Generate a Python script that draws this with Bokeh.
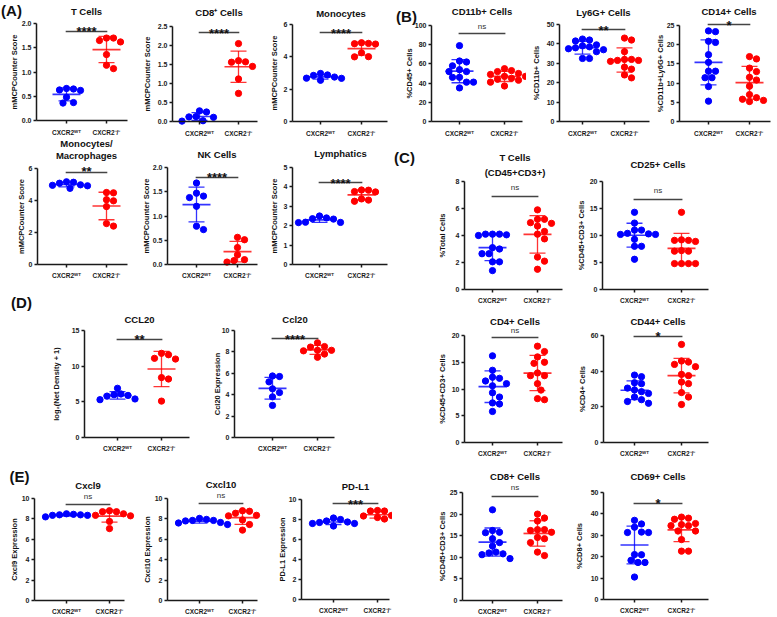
import math
import numpy as np
from bokeh.plotting import figure
from bokeh.layouts import row, column
from bokeh.models import Range1d, FixedTicker, Label, PrintfTickFormatter
from bokeh.embed import file_html
from bokeh.resources import INLINE

# ---------------- data ----------------
GROUP_LABELS = ["CXCR2ᵂᵀ", "CXCR2⁻/⁻"]

# (A) mMCPCounter scores
a_tcells_wt = [0.66, 0.65, 0.62, 0.63, 0.48, 0.36, 0.37]
a_tcells_ko = [1.70, 1.70, 1.65, 1.62, 1.36, 1.14, 1.07]
a_cd8_wt = [0.28, 0.25, 0.13, 0.12, 0.11, 0.02, 0.01]
a_cd8_ko = [2.05, 1.60, 1.57, 1.56, 1.45, 1.12, 0.74]
a_mono_wt = [2.67, 2.68, 2.75, 2.88, 2.97, 2.85, 2.55]
a_mono_ko = [4.83, 4.79, 4.81, 4.87, 4.25, 4.00, 4.01]
a_monomac_wt = [5.17, 5.08, 4.98, 4.95, 5.14, 4.76, 4.92]
a_monomac_ko = [4.50, 4.48, 4.05, 3.98, 3.62, 2.56, 2.40]
a_nk_wt = [1.68, 1.47, 1.41, 1.38, 1.20, 0.79, 0.72]
a_nk_ko = [0.56, 0.51, 0.35, 0.20, 0.08, 0.05, 0.10]
a_lymph_wt = [2.50, 2.36, 2.34, 2.40, 2.17, 2.16, 2.18]
a_lymph_ko = [3.76, 3.84, 3.74, 3.83, 3.26, 3.32, 3.38]

# (B) flow cytometry, myeloid
b_cd11b_wt = [79, 62, 63, 58, 52, 52, 54, 46, 46, 41, 41, 35]
b_cd11b_ko = [55, 53, 52, 50, 49, 47, 47, 45, 44, 43, 41, 37]
b_ly6g_wt = [42.5, 42, 41.5, 39.5, 39, 38.5, 38, 37.5, 37, 36, 32.5, 32.5]
b_ly6g_ko = [43, 42, 36, 32, 32, 31.5, 31.5, 31, 28, 27, 24, 22.5]
b_cd14_wt = [23.4, 23.6, 20.9, 20.6, 17.4, 15.4, 13.1, 13.1, 11.4, 11.4, 9.1, 5.3]
b_cd14_ko = [16.9, 16.3, 13.9, 13.0, 11.5, 10.8, 9.2, 7.0, 6.2, 5.8, 5.5, 5.2]

# (C) flow cytometry, T cells
c_tcells_wt = [4.1, 4.1, 4.05, 4.0, 4.1, 3.1, 3.0, 2.65, 2.65, 2.05, 2.05, 1.4]
c_tcells_ko = [5.9, 5.2, 5.2, 4.95, 4.9, 4.7, 4.3, 4.1, 3.75, 2.4, 2.1, 1.5]
c_cd25_wt = [14.3, 12.3, 11.0, 11.0, 10.3, 10.2, 10.2, 10.4, 9.3, 8.0, 8.0, 5.6]
c_cd25_ko = [14.3, 9.2, 9.1, 9.1, 8.9, 7.2, 7.1, 7.1, 4.8, 4.8, 4.8, 4.8]
c_cd4_wt = [16.2, 13.5, 12.2, 12.0, 11.5, 11.0, 10.6, 9.3, 8.5, 7.4, 7.2, 5.8]
c_cd4_ko = [18.0, 17.0, 16.0, 15.0, 14.8, 13.0, 12.5, 12.5, 11.0, 9.8, 8.2, 8.0]
c_cd44_wt = [37.8, 36.9, 33.5, 33.0, 30.5, 29.5, 28.5, 27.5, 25.5, 24.0, 23.0, 22.0]
c_cd44_ko = [55.0, 45.7, 45.1, 43.8, 42.5, 38.2, 37.5, 33.9, 33.0, 28.0, 25.5, 21.3]
c_cd8_wt = [21.0, 16.2, 15.8, 15.7, 14.3, 13.4, 12.6, 11.2, 11.0, 10.8, 10.6, 9.7]
c_cd8_ko = [20.0, 19.1, 18.4, 16.4, 16.4, 16.2, 15.8, 14.6, 14.3, 13.4, 11.2, 10.4]
c_cd69_wt = [37.0, 35.3, 33.8, 31.3, 31.5, 31.3, 21.0, 20.9, 18.3, 17.3, 17.3, 10.5]
c_cd69_ko = [38.5, 38.0, 37.5, 35.0, 35.5, 34.5, 34.5, 32.0, 32.0, 28.0, 22.6, 22.6]

# (D) CCL20 protein / Ccl20 RNA
d_ccl20_prot_wt = [6.9, 6.1, 6.0, 5.9, 5.8, 5.4, 5.3]
d_ccl20_prot_ko = [11.8, 11.6, 11.1, 11.0, 8.4, 8.2, 5.1]
d_ccl20_rna_wt = [5.75, 5.7, 5.2, 4.55, 4.2, 3.8, 3.0]
d_ccl20_rna_ko = [8.85, 8.5, 8.45, 8.15, 8.15, 8.1, 7.8, 7.5]

# (E) expression
e_cxcl9_wt = [8.35, 8.5, 8.45, 8.4, 8.35, 8.4, 8.2]
e_cxcl9_ko = [8.8, 8.7, 8.7, 8.5, 8.35, 8.3, 7.75, 7.05]
e_cxcl10_wt = [7.95, 8.05, 7.85, 7.8, 7.65, 7.6, 7.85, 7.45]
e_cxcl10_ko = [8.75, 8.8, 8.55, 8.35, 8.3, 7.9, 7.45, 6.9]
e_pdl1_wt = [7.85, 7.75, 8.0, 8.15, 7.35, 7.6, 7.6, 7.7]
e_pdl1_ko = [8.85, 8.9, 8.85, 8.2, 8.35, 8.4, 8.05, 8.2]

# ---------------- styling / layout ----------------
FONT = "Liberation Sans"
BLUE = "#0000FF"
RED = "#FF0000"
AXIS = "#1a1a1a"


def X(x):
    return x - 1.0


def Y(y):
    return y - 1.0


def swarm(vals, ppu, d):
    vals = np.asarray(vals, float)
    order = np.argsort(-vals, kind="stable")
    placed = []
    offs = np.zeros(len(vals))
    cands = [0.0]
    for k in range(1, 40):
        cands += [k * d / 2.0, -k * d / 2.0]
    for i in order:
        yy = vals[i] * ppu
        for c in cands:
            if all((c - px) ** 2 + (yy - py) ** 2 >= (0.95 * d) ** 2 for px, py in placed):
                offs[i] = c
                placed.append((c, yy))
                break
    return offs


def make_panel(spec, box):
    x0, y0, x1, y1 = box
    FX0, FX1 = round(X(x0)), round(X(x1))
    FY0, FY1 = round(Y(y0)), round(Y(y1))
    t0 = X(spec["t0"])
    u = X(spec["t1"]) - t0
    ymax = spec["ymax"]
    Yb = Y(spec["B"])
    sy = (Yb - Y(spec["T"])) / ymax

    def dx(px):  # reference px -> data x
        return (X(px) - t0) / u

    def dy(py):  # reference px -> data y
        return (Yb - Y(py)) / sy

    p = figure(width=FX1 - FX0, height=FY1 - FY0,
               x_range=Range1d((FX0 - t0) / u, (FX1 - t0) / u),
               y_range=Range1d((Yb - FY1) / sy, (Yb - FY0) / sy),
               output_backend="svg", toolbar_location=None, tools="",
               min_border_left=0, min_border_right=0,
               min_border_top=0, min_border_bottom=0,
               outline_line_color=None, title=None)
    p.xgrid.visible = False
    p.ygrid.visible = False

    xL, xR = dx(spec["L"]), dx(spec["R"])
    for ax in (p.xaxis[0], p.yaxis[0]):
        ax.axis_line_width = 1.5
        ax.axis_line_color = AXIS
        ax.major_tick_line_width = 1.5
        ax.major_tick_line_color = AXIS
        ax.major_tick_out = 3
        ax.major_tick_in = 0
        ax.minor_tick_out = 0
        ax.minor_tick_in = 0
        ax.major_label_text_font = FONT
        ax.major_label_text_font_style = "bold"
        ax.major_label_text_color = AXIS

    yt = list(np.round(np.arange(0, ymax + spec["step"] / 2.0, spec["step"]), 4))
    p.yaxis.ticker = FixedTicker(ticks=yt)
    p.yaxis.formatter = PrintfTickFormatter(format=spec["fmt"])
    p.yaxis.bounds = (0, ymax)
    p.yaxis.fixed_location = xL
    p.yaxis.major_label_text_font_size = "7px"
    p.yaxis.major_label_standoff = 2

    p.xaxis.ticker = FixedTicker(ticks=[0, 1])
    p.xaxis.major_label_overrides = {0: GROUP_LABELS[0], 1: GROUP_LABELS[1]}
    p.xaxis.major_label_text_font_size = "6.5px"
    p.xaxis.major_label_standoff = spec.get("xstand", 4)
    p.xaxis.bounds = (xL, xR)
    p.xaxis.fixed_location = 0

    # data
    for gi, (vals, col) in enumerate([(spec["wt"], BLUE), (spec["ko"], RED)]):
        v = np.asarray(vals, float)
        offs = swarm(v, sy, 7.0) / u
        m = float(v.mean())
        s = float(v.std(ddof=1))
        p.scatter(gi + offs, v, size=6.3, fill_color=col, line_color=col)
        hm, hc = 14.0 / u, 8.0 / u
        p.segment(x0=[gi - hm, gi, gi - hc, gi - hc], y0=[m, m - s, m - s, m + s],
                  x1=[gi + hm, gi, gi + hc, gi + hc], y1=[m, m + s, m - s, m + s],
                  line_color=col, line_width=[1.7, 1.3, 1.3, 1.3], line_alpha=0.8)

    # significance bar and label
    yb = dy(spec["bar_y"])
    p.segment(x0=[-0.02], y0=[yb], x1=[1.02], y1=[yb], line_color="#444", line_width=1.6)
    sig = spec["sig"]
    if sig == "ns":
        p.add_layout(Label(x=0.5, y=dy(spec["sig_y"]), text="ns", text_font=FONT,
                           text_font_size="8px", text_color="#333",
                           text_align="center", text_baseline="middle"))
    else:
        fs = 13
        p.add_layout(Label(x=0.5, y=dy(spec["sig_y"] + 0.55 * fs), text=sig, text_font=FONT,
                           text_font_size="%dpx" % fs, text_font_style="bold", text_color="#111",
                           text_align="center", text_baseline="alphabetic"))

    # titles
    for t, ty in zip(spec["title"], spec["title_y"]):
        p.add_layout(Label(x=0.5, y=dy(ty), text=t, text_font=FONT, text_font_size="9.5px",
                           text_font_style="bold", text_color="#111",
                           text_align="center", text_baseline="middle"))
    # y-axis label
    p.add_layout(Label(x=dx(spec["ylab_x"]), y=ymax / 2.0, text=spec["ylab"], angle=math.pi / 2,
                       text_font=FONT, text_font_size="7.5px", text_font_style="bold",
                       text_color="#111", text_align="center", text_baseline="middle"))
    if "panel" in spec:
        txt, px, py = spec["panel"]
        p.add_layout(Label(x=dx(px), y=dy(py), text=txt, text_font=FONT, text_font_size="15px",
                           text_font_style="bold", text_color="#111",
                           text_align="center", text_baseline="middle"))
    return p


MM = "mMCPCounter Score"
CD45CD3 = "%CD45+CD3+ Cells"

# ---------------- panel specs ----------------
A1 = [
    dict(wt=a_tcells_wt, ko=a_tcells_ko, L=37, R=128, T=24, B=121, t0=67, t1=107, ymax=2.0, step=0.5, fmt="%.1f",
         title=["T Cells"], title_y=[12], sig="****", sig_y=25, bar_y=32, ylab=MM, ylab_x=15,
         panel=("(A)", 12, 11), xstand=5),
    dict(wt=a_cd8_wt, ko=a_cd8_ko, L=173, R=258, T=27, B=122, t0=200, t1=239, ymax=2.5, step=0.5, fmt="%.1f",
         title=["CD8⁺ Cells"], title_y=[13], sig="****", sig_y=27, bar_y=33, ylab=MM, ylab_x=148, xstand=5),
    dict(wt=a_mono_wt, ko=a_mono_ko, L=293, R=388, T=25, B=122, t0=321, t1=362, ymax=6, step=2, fmt="%d",
         title=["Monocytes"], title_y=[14], sig="****", sig_y=27, bar_y=33, ylab=MM, ylab_x=275, xstand=5),
]
A2 = [
    dict(wt=a_monomac_wt, ko=a_monomac_ko, L=38, R=128, T=169, B=265, t0=67, t1=107, ymax=6, step=2, fmt="%d",
         title=["Monocytes/", "Macrophages"], title_y=[144, 156], sig="**", sig_y=165, bar_y=173,
         ylab=MM, ylab_x=22),
    dict(wt=a_nk_wt, ko=a_nk_ko, L=168, R=258, T=168, B=265, t0=197, t1=238, ymax=2.0, step=0.5, fmt="%.1f",
         title=["NK Cells"], title_y=[155], sig="****", sig_y=171, bar_y=178, ylab=MM, ylab_x=147),
    dict(wt=a_lymph_wt, ko=a_lymph_ko, L=293, R=388, T=168, B=265, t0=320, t1=362, ymax=5, step=1, fmt="%d",
         title=["Lymphatics"], title_y=[154], sig="****", sig_y=177, bar_y=183, ylab=MM, ylab_x=275),
]
DD = [
    dict(wt=d_ccl20_prot_wt, ko=d_ccl20_prot_ko, L=85, R=190, T=331, B=438, t0=118, t1=162, ymax=15, step=5,
         fmt="%d", title=["CCL20"], title_y=[320], sig="**", sig_y=333, bar_y=340,
         ylab="log₂(Net Density + 1)", ylab_x=57, panel=("(D)", 22, 303)),
    dict(wt=d_ccl20_rna_wt, ko=d_ccl20_rna_ko, L=235, R=335, T=331, B=438, t0=273, t1=318, ymax=10, step=2,
         fmt="%d", title=["Ccl20"], title_y=[320], sig="****", sig_y=333, bar_y=339,
         ylab="Ccl20 Expression", ylab_x=218),
]
EE = [
    dict(wt=e_cxcl9_wt, ko=e_cxcl9_ko, L=35, R=125, T=499, B=601, t0=67, t1=110, ymax=10, step=2, fmt="%d",
         title=["Cxcl9"], title_y=[486], sig="ns", sig_y=497, bar_y=505, ylab="Cxcl9 Expression", ylab_x=15,
         panel=("(E)", 20, 477)),
    dict(wt=e_cxcl10_wt, ko=e_cxcl10_ko, L=168, R=258, T=499, B=601, t0=200, t1=243, ymax=10, step=2, fmt="%d",
         title=["Cxcl10"], title_y=[485], sig="ns", sig_y=496, bar_y=504, ylab="Cxcl10 Expression", ylab_x=148),
    dict(wt=e_pdl1_wt, ko=e_pdl1_ko, L=302, R=390, T=500, B=600, t0=334, t1=378, ymax=10, step=2, fmt="%d",
         title=["PD-L1"], title_y=[487], sig="***", sig_y=498, bar_y=504, ylab="PD-L1 Expression", ylab_x=283),
]
BB = [
    dict(wt=b_cd11b_wt, ko=b_cd11b_ko, L=432, R=523, T=26, B=122, t0=460, t1=505, ymax=100, step=20, fmt="%d",
         title=["CD11b+ Cells"], title_y=[12], sig="ns", sig_y=27, bar_y=34, ylab="%CD45+ Cells", ylab_x=410,
         panel=("(B)", 407, 17), xstand=5),
    dict(wt=b_ly6g_wt, ko=b_ly6g_ko, L=560, R=650, T=25, B=122, t0=583, t1=625, ymax=50, step=10, fmt="%d",
         title=["Ly6G+ Cells"], title_y=[13], sig="**", sig_y=24, bar_y=30, ylab="%CD11b+ Cells", ylab_x=537,
         xstand=5),
    dict(wt=b_cd14_wt, ko=b_cd14_ko, L=680, R=771, T=26, B=122, t0=709, t1=750, ymax=25, step=5, fmt="%d",
         title=["CD14+ Cells"], title_y=[12], sig="*", sig_y=19, bar_y=25, ylab="%CD11b+Ly6G+ Cells",
         ylab_x=661, xstand=5),
]
C1 = [
    dict(wt=c_tcells_wt, ko=c_tcells_ko, L=465, R=563, T=182, B=290, t0=493, t1=538, ymax=8, step=2, fmt="%d",
         title=["T Cells", "(CD45+CD3+)"], title_y=[158, 173], sig="ns", sig_y=188, bar_y=197,
         ylab="%Total Cells", ylab_x=443, panel=("(C)", 405, 158)),
    dict(wt=c_cd25_wt, ko=c_cd25_ko, L=603, R=709, T=182, B=290, t0=635, t1=682, ymax=20, step=5, fmt="%d",
         title=["CD25+ Cells"], title_y=[165], sig="ns", sig_y=191, bar_y=200, ylab=CD45CD3, ylab_x=582),
]
C2 = [
    dict(wt=c_cd4_wt, ko=c_cd4_ko, L=465, R=563, T=336, B=443, t0=493, t1=538, ymax=20, step=5, fmt="%d",
         title=["CD4+ Cells"], title_y=[322], sig="ns", sig_y=331, bar_y=338, ylab=CD45CD3, ylab_x=443),
    dict(wt=c_cd44_wt, ko=c_cd44_ko, L=604, R=709, T=336, B=443, t0=635, t1=682, ymax=60, step=20, fmt="%d",
         title=["CD44+ Cells"], title_y=[322], sig="*", sig_y=330, bar_y=337, ylab="%CD4+ Cells", ylab_x=583),
]
C3 = [
    dict(wt=c_cd8_wt, ko=c_cd8_ko, L=463, R=563, T=493, B=601, t0=493, t1=538, ymax=25, step=5, fmt="%d",
         title=["CD8+ Cells"], title_y=[477], sig="ns", sig_y=488, bar_y=497, ylab=CD45CD3, ylab_x=443),
    dict(wt=c_cd69_wt, ko=c_cd69_ko, L=604, R=709, T=493, B=600, t0=635, t1=682, ymax=50, step=10, fmt="%d",
         title=["CD69+ Cells"], title_y=[477], sig="*", sig_y=497, bar_y=504, ylab="%CD8+ Cells", ylab_x=580),
]


def band(specs, xs, y0, y1):
    return row(*[make_panel(s, (xs[i], y0, xs[i + 1], y1)) for i, s in enumerate(specs)])


left = column(
    band(A1, [1, 140, 265, 393], 1, 138),
    band(A2, [1, 140, 265, 393], 138, 288),
    band(DD, [1, 200, 393], 288, 460),
    band(EE, [1, 140, 270, 393], 460, 616),
)
right = column(
    band(BB, [393, 527, 653, 776], 1, 143),
    band(C1, [393, 575, 776], 143, 309),
    band(C2, [393, 575, 776], 309, 464),
    band(C3, [393, 575, 776], 464, 616),
)
page = row(left, right)

open("out.html", "w").write(file_html(page, INLINE, title="CXCR2 figure"))
